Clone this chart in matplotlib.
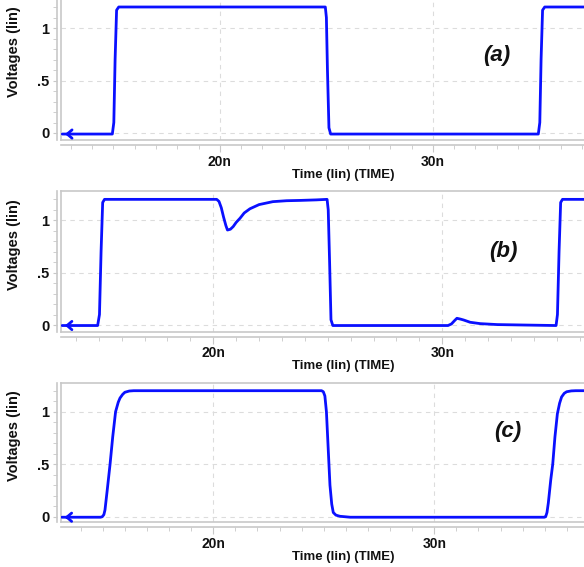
import matplotlib.pyplot as plt
from matplotlib.ticker import MultipleLocator, FixedLocator, FuncFormatter

# waveform samples (time in ns, voltage in V)
t_a = [12.6, 14.95, 15.02, 15.08, 15.15, 15.25, 24.95, 25.0, 25.05, 25.12, 25.2,
       34.95, 35.02, 35.08, 35.15, 35.25, 39.0]
v_a = [-0.01, -0.01, 0.1, 0.7, 1.17, 1.2, 1.2, 1.1, 0.6, 0.05, -0.01,
       -0.01, 0.1, 0.7, 1.17, 1.2, 1.2]

t_b = [13.4, 14.95, 15.03, 15.1, 15.17, 15.25, 20.15, 20.25, 20.35, 20.45, 20.55,
       20.62, 20.75, 20.87, 21.0, 21.17, 21.35, 21.6, 22.0, 22.6, 23.2, 23.8,
       24.5, 24.97, 25.02, 25.08, 25.14, 25.22,
       30.25, 30.4, 30.55, 30.64, 30.8, 30.93, 31.22, 31.66, 32.4, 33.5,
       34.97, 35.03, 35.1, 35.17, 35.25, 38.0]
v_b = [-0.005, -0.005, 0.1, 0.7, 1.17, 1.2, 1.2, 1.18, 1.12, 1.03, 0.95,
       0.907, 0.915, 0.94, 0.98, 1.02, 1.07, 1.11, 1.15, 1.178, 1.187, 1.19,
       1.195, 1.2, 1.1, 0.6, 0.05, -0.005,
       -0.005, 0.01, 0.045, 0.064, 0.056, 0.048, 0.026, 0.013, 0.004, 0.0,
       -0.005, 0.1, 0.7, 1.17, 1.2, 1.2]

t_c = [13.15, 14.9, 14.98, 15.05, 15.1, 15.2, 15.33, 15.45, 15.58, 15.7, 15.78,
       15.9, 16.0, 16.2, 16.4, 24.9, 24.98, 25.05, 25.12, 25.2, 25.28, 25.36,
       25.43, 25.55, 25.73, 26.2, 34.98, 35.04, 35.1, 35.16, 35.27, 35.36,
       35.46, 35.57, 35.67, 35.76, 35.88, 35.99, 36.2, 36.4, 38.7]
v_c = [-0.005, -0.005, 0.0, 0.02, 0.064, 0.25, 0.5, 0.76, 1.0, 1.09, 1.13,
       1.165, 1.185, 1.197, 1.2, 1.2, 1.19, 1.15, 1.0, 0.65, 0.3, 0.12,
       0.04, 0.015, 0.004, -0.005, -0.005, 0.0, 0.04, 0.13, 0.35, 0.5,
       0.76, 0.98, 1.08, 1.14, 1.175, 1.19, 1.198, 1.2, 1.2]

panel_names = ["(a)", "(b)", "(c)"]
x_ticks = [20, 30]
y_ticks = [0, 0.5, 1]
y_tick_labels = ["0", ".5", "1"]

W, H = 584, 567
fig = plt.figure(figsize=(W / 100, H / 100), dpi=100)

# layout in pixels: box top, box bottom, zero line, px per volt, xlim, tag centre
layout = [
    dict(top=-2, bot=140, zero=133, ppv=105, xlim=(12.54, 39.02), tag=(497, 55)),
    dict(top=191, bot=331.7, zero=325, ppv=104.7, xlim=(13.35, 37.98), tag=(503, 252)),
    dict(top=383.3, bot=522.3, zero=516.7, ppv=105, xlim=(13.11, 38.63), tag=(508, 432)),
]
series = [(t_a, v_a), (t_b, v_b), (t_c, v_c)]

left_px, right_px = 61, 625
grey = "#c8c8c8"
txt = dict(family="Liberation Sans", weight="bold", size=9.5, color="#111111")

for (t, v), lay, name in zip(series, layout, panel_names):
    hpx = lay["bot"] - lay["top"]
    ax = fig.add_axes([left_px / W, (H - lay["bot"]) / H,
                       (right_px - left_px) / W, hpx / H])
    ax.plot(t, v, color="#0a10ff", lw=2.0, solid_joinstyle="round",
            solid_capstyle="round", zorder=3)
    ax.annotate("", xy=(t[0], v[0]), xytext=(7, 0), textcoords="offset points",
                arrowprops=dict(arrowstyle="->,head_length=0.35,head_width=0.3",
                                color="#0a10ff", lw=2.0), zorder=4)
    ax.set_xlim(*lay["xlim"])
    ax.set_ylim(-(lay["bot"] - lay["zero"]) / lay["ppv"],
                (lay["zero"] - lay["top"]) / lay["ppv"])
    ax.set_xticks(x_ticks)
    ax.set_yticks(y_ticks)
    ax.tick_params(length=0, labelbottom=False, labelleft=False)
    ax.grid(True, color="#dcdcdc", ls=(0, (4, 4)), lw=0.8)
    for s in ax.spines.values():
        s.set_color(grey)
        s.set_linewidth(1.2)

    # offset time axis under the box
    sx = ax.secondary_xaxis(-5 / hpx)
    sx.xaxis.set_major_locator(FixedLocator(x_ticks))
    sx.xaxis.set_minor_locator(MultipleLocator(1))
    sx.xaxis.set_major_formatter(FuncFormatter(lambda x, p: "%dn" % round(x)))
    sx.tick_params(which="major", length=5, color=grey, pad=2)
    sx.tick_params(which="minor", length=3, color=grey)
    sx.spines["bottom"].set_color(grey)
    sx.spines["bottom"].set_linewidth(1.2)
    for lb in sx.get_xticklabels():
        lb.set(**txt)
        lb.set_size(10)
    sx.set_xlabel("Time (lin) (TIME)", labelpad=0, **txt)

    # offset voltage axis left of the box
    sy = ax.secondary_yaxis(-4 / (right_px - left_px))
    sy.set_yticks(y_ticks)
    sy.set_yticklabels(y_tick_labels)
    sy.yaxis.set_minor_locator(MultipleLocator(0.1))
    sy.tick_params(which="both", length=3, color=grey, pad=2.5)
    sy.spines["left"].set_color(grey)
    sy.spines["left"].set_linewidth(1.2)
    for lb in sy.get_yticklabels():
        lb.set(**txt)
        lb.set_size(10.5)

    yc = lay["bot"] - 0.62 * hpx
    fig.text(14 / W, 1 - yc / H, "Voltages (lin)", rotation=90,
             ha="center", va="center", **dict(txt, size=10.5))

    fig.text(lay["tag"][0] / W, 1 - lay["tag"][1] / H, name, ha="center",
             va="center", family="Liberation Sans", weight="bold",
             style="italic", size=16, color="#111111")

fig.savefig("out.png", dpi=100)
